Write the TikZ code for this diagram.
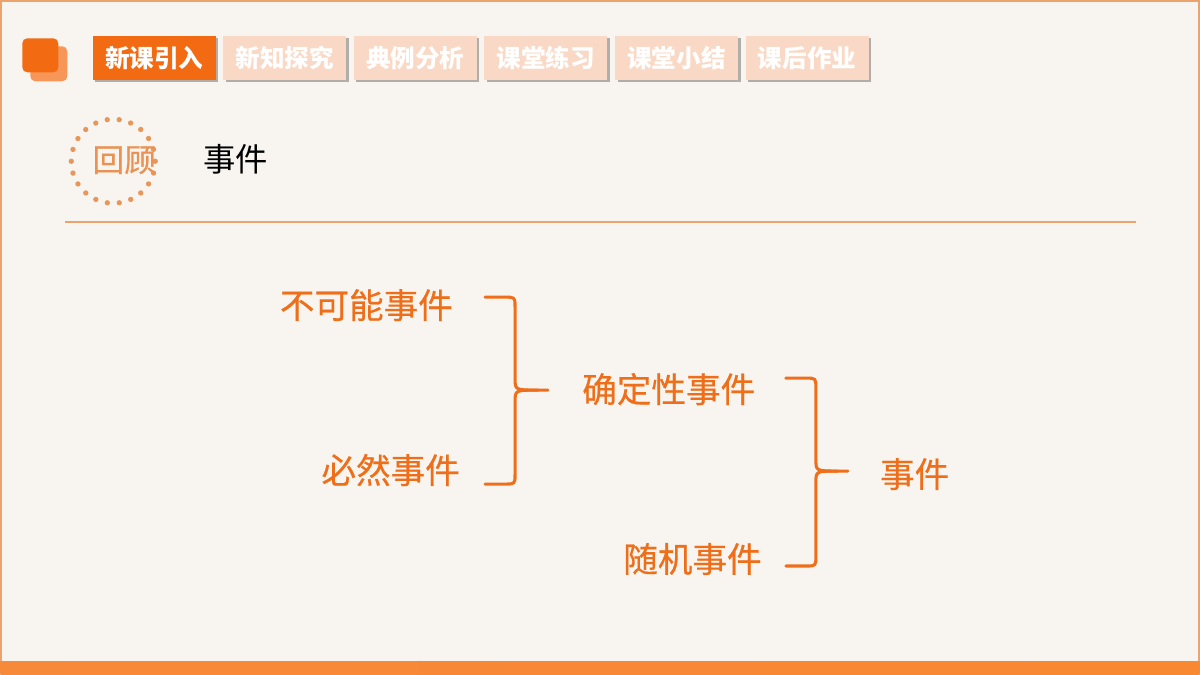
\documentclass[tikz,border=0pt]{standalone}
\usepackage{fontspec}
\setmainfont{Noto Sans CJK SC}
\newfontfamily\rvmed[FakeBold=0.5]{Noto Sans CJK SC}
\usetikzlibrary{
  positioning,
  calc,
  shadows
}
\definecolor{rvOrange}{HTML}{F26B12}
\definecolor{rvLight}{HTML}{F9D9C5}
\definecolor{rvBrace}{HTML}{EE6E1A}
\definecolor{rvLine}{HTML}{EBA46E}
\definecolor{rvDot}{HTML}{E8965A}
\definecolor{rvBg}{HTML}{F8F5F0}
\definecolor{rvBar}{HTML}{F7893A}
\tikzset{
  tab/.style={
    minimum width=87.5pt, minimum height=31.3pt, inner sep=0pt,
    font=\bfseries\fontsize{17.5}{20}\selectfont, text=white,
    drop shadow={shadow xshift=1.8pt, shadow yshift=-1.4pt, opacity=0.45, fill=black!65}
  },
  tabon/.style={tab, fill=rvOrange},
  taboff/.style={tab, fill=rvLight},
  evt/.style={font=\rvmed\fontsize{24.6}{27}\selectfont, text=rvBrace, inner sep=0pt},
  brace/.style={draw=rvBrace, line width=2.2, line cap=round, line join=round}
}

\begin{document}
\begin{tikzpicture}[x=0.025cm, y=-0.025cm]
  % slide
  \fill[rvBg] (0,0) rectangle (1200,675);
  \draw[rvLine, line width=1.6] (0.8,0.8) rectangle (1199.2,662);
  \shade[left color=rvBar, right color=rvBar!85!orange] (0,662) rectangle (1200,675);
  \useasboundingbox (0,0) rectangle (1200,675);

  % logo
  \fill[rvOrange!70, rounded corners=3.5pt] (30,46) rectangle (67,81);
  \fill[rvOrange, rounded corners=3.5pt] (22,38) rectangle (58,72);

  % tabs
  \node[tabon] (t1) at (154,58) {新课引入};
  \node[taboff, right=5pt of t1] (t2) {新知探究};
  \node[taboff, right=5pt of t2] (t3) {典例分析};
  \node[taboff, right=5pt of t3] (t4) {课堂练习};
  \node[taboff, right=5pt of t4] (t5) {课堂小结};
  \node[taboff, right=5pt of t5] (t6) {课后作业};

  % review badge
  \foreach \a in {0,16.36,...,345}
    \fill[rvDot] ($(113,161)+(\a:42)$) circle[radius=1.9pt];
  \node[font=\rvmed\fontsize{22.5}{24}\selectfont, text=rvDot!90!rvOrange] (review) at (124,160) {回顾};
  \node[font=\fontsize{23}{26}\selectfont, anchor=west] (title) at (198,159) {事件};
  \draw[rvLine, line width=1.6] (65,222) -- (1136,222);

  % events
  \node[evt, anchor=east] (impossible) at (453,305) {不可能事件};
  \node[evt, anchor=east] (certain) at (460,470) {必然事件};
  \node[evt, anchor=west] (determ) at (582,389) {确定性事件};
  \node[evt, anchor=east] (random) at (762,559) {随机事件};
  \node[evt, anchor=west] (event) at (880,474) {事件};

  % braces
  \coordinate (b1top) at (485,297);
  \coordinate (b1bot) at (485,484);
  \coordinate (b1tip) at (548,390);
  \draw[brace] (b1top) -- ++(20,0) .. controls +(10,0) .. ++(10,10)
    |- ($(b1tip)+(-33,-12)$) .. controls +(0,12) .. ($(b1tip)+(-10,0)$) -- (b1tip);
  \draw[brace] (b1bot) -- ++(20,0) .. controls +(10,0) .. ++(10,-10)
    |- ($(b1tip)+(-33,12)$) .. controls +(0,-12) .. ($(b1tip)+(-10,0)$);

  \coordinate (b2top) at (786,378);
  \coordinate (b2bot) at (786,566);
  \coordinate (b2tip) at (848,471);
  \draw[brace] (b2top) -- ++(20,0) .. controls +(10,0) .. ++(10,10)
    |- ($(b2tip)+(-32,-12)$) .. controls +(0,12) .. ($(b2tip)+(-10,0)$) -- (b2tip);
  \draw[brace] (b2bot) -- ++(20,0) .. controls +(10,0) .. ++(10,-10)
    |- ($(b2tip)+(-32,12)$) .. controls +(0,-12) .. ($(b2tip)+(-10,0)$);
\end{tikzpicture}
\end{document}
